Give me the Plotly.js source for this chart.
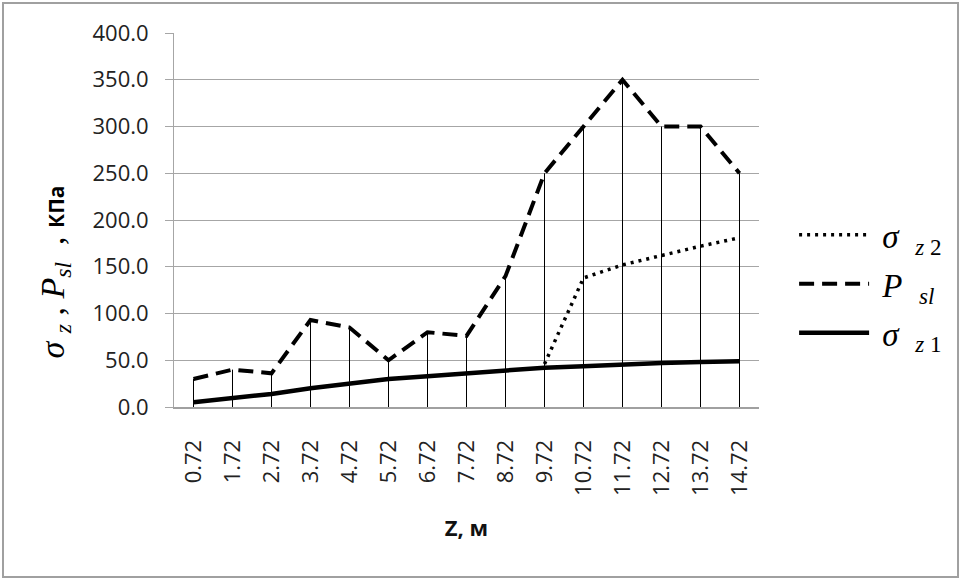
<!DOCTYPE html>
<html>
<head>
<meta charset="utf-8">
<script src="https://cdn.plot.ly/plotly-3.0.1.min.js"></script>
<style>html,body{margin:0;padding:0;background:#fff;}#chart{width:963px;height:581px;}</style>
</head>
<body>
<div id="chart"></div>
<script>
var categories = ['0.72','1.72','2.72','3.72','4.72','5.72','6.72','7.72','8.72','9.72','10.72','11.72','12.72','13.72','14.72'];
var pSl = [30, 40, 36, 93, 85, 50, 80, 76, 140, 250, 300, 350, 300, 300, 250];
var sigmaZ1 = [5, 9, 14, 20, 25, 30, 33, 36, 39, 42, 43.5, 45.5, 47, 48, 49];
var sigmaZ2 = [null, null, null, null, null, null, null, null, null, 46, 138, 152, 162, 172, 181];
var yTicks = [0, 50, 100, 150, 200, 250, 300, 350, 400];

// drop lines from the highest value of each category down to the axis
var dropX = [], dropY = [];
categories.forEach(function (c, i) {
  var top = Math.max(pSl[i], sigmaZ1[i], sigmaZ2[i] == null ? 0 : sigmaZ2[i]);
  dropX.push(c, c, null);
  dropY.push(0, top, null);
});

var serif = 'Liberation Serif, Times New Roman, serif';
var sans = 'Open Sans, sans-serif';

var traces = [
  {x: dropX, y: dropY, mode: 'lines', line: {color: '#000', width: 1}, showlegend: false, hoverinfo: 'skip'},
  {x: categories, y: sigmaZ1, mode: 'lines', name: ' <i>σ</i>  <sub><i>z</i> 1</sub>', legendgroup: 'c', legendrank: 3,
   line: {color: '#000', width: 4.5}},
  {x: categories, y: pSl, mode: 'lines', name: ' <i>P</i>  <sub><i>sl</i></sub>', legendgroup: 'b', legendrank: 2,
   line: {color: '#000', width: 4, dash: '15px,8px'}},
  {x: categories, y: sigmaZ2, mode: 'lines', name: ' <i>σ</i>  <sub><i>z</i> 2</sub>', legendgroup: 'a', legendrank: 1,
   line: {color: '#000', width: 3.5, dash: '3px,5px'}, connectgaps: false}
];

var layout = {
  width: 963, height: 581,
  margin: {l: 174, r: 204, t: 33, b: 174},
  paper_bgcolor: '#fff', plot_bgcolor: '#fff',
  showlegend: true,
  legend: {x: 1.06, y: 0.535, xanchor: 'left', yanchor: 'top', font: {family: serif, size: 33, color: '#000'},
           itemwidth: 70, tracegroupgap: 3, bgcolor: 'rgba(0,0,0,0)'},
  xaxis: {type: 'category', categoryarray: categories, range: [-0.5, 14.5], tickangle: -90,
          tickfont: {family: sans, size: 22, color: '#222'}, showgrid: false, showline: true,
          linecolor: '#a0a0a0', linewidth: 2, ticks: '', ticklabelstandoff: 22,
          title: {text: '<b>Z, м</b>', font: {family: sans, size: 22, color: '#111'}, standoff: 26}},
  yaxis: {range: [0, 400], tickvals: yTicks, tickformat: '.1f', tickfont: {family: sans, size: 22, color: '#222'},
          gridcolor: '#a6a6a6', gridwidth: 1, zeroline: false, showline: true, linecolor: '#a6a6a6',
          ticks: 'outside', ticklen: 8, tickcolor: '#a6a6a6', ticklabelstandoff: 12},
  annotations: [{
    xref: 'paper', yref: 'paper', x: -0.203, y: 0.36, xanchor: 'center', yanchor: 'middle', textangle: -90, showarrow: false,
    text: '<i>σ</i> <sub><i>z</i></sub> , <i>P</i><sub><i>sl</i></sub>  , <b><span style="font-family:Open Sans;font-size:21px">КПа</span></b>',
    font: {family: serif, size: 34, color: '#000'}
  }],
  shapes: [{type: 'rect', xref: 'paper', yref: 'paper', x0: -0.2923, x1: 1.3402, y0: -0.4545, y1: 1.0802,
            line: {color: '#a0a0a0', width: 2}}]
};

Plotly.newPlot('chart', traces, layout, {staticPlot: true});
</script>
</body>
</html>
